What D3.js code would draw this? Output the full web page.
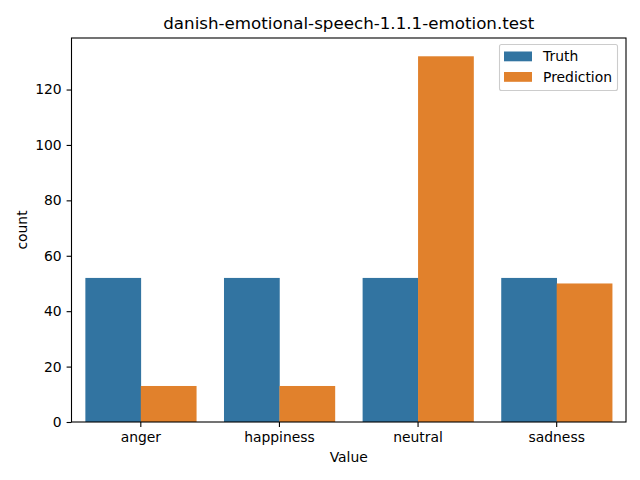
<!DOCTYPE html>
<html><head><meta charset="utf-8">
<script src="https://cdn.jsdelivr.net/npm/d3@7"></script>
<style>body{margin:0;background:#fff}svg{display:block}text{font-family:"DejaVu Sans",sans-serif;fill:#000}</style>
</head><body><svg id="c" width="640" height="480"></svg>
<script>
const categories = ["anger", "happiness", "neutral", "sadness"];
const seriesNames = ["Truth", "Prediction"];
const truthValues = [52, 52, 52, 52];
const predictionValues = [13, 13, 132, 50];
const yTicks = [0, 20, 40, 60, 80, 100, 120];
const colors = ["#3274a1", "#e1812c"];

const svg = d3.select("#c");
const L = 71.5, R = 626, T = 38, B = 422;
const x = d3.scaleBand().domain(categories).range([L, R]).paddingInner(0.2).paddingOuter(0.1);
const xs = d3.scaleBand().domain(seriesNames).range([0, x.bandwidth()]);
const ymax = d3.max(predictionValues.concat(truthValues)) * 1.05;
const y = d3.scaleLinear().domain([0, ymax]).range([B, T]);

const data = [truthValues, predictionValues];
seriesNames.forEach((s, si) => {
  svg.append("g").selectAll("rect").data(categories).join("rect")
    .attr("x", d => x(d) + xs(s))
    .attr("width", xs.bandwidth() + 0.3)
    .attr("y", (d, i) => y(data[si][i]))
    .attr("height", (d, i) => B - y(data[si][i]))
    .attr("fill", colors[si]);
});

const xAxis = svg.append("g").attr("transform", `translate(0,${B})`)
  .call(d3.axisBottom(x).tickSizeOuter(0).tickSize(4.9).tickPadding(4.9));
const yAxis = svg.append("g").attr("transform", `translate(${L},0)`)
  .call(d3.axisLeft(y).tickValues(yTicks).tickSizeOuter(0).tickSize(4.9).tickPadding(4.9));
[xAxis, yAxis].forEach(a => {
  a.selectAll("text").style("font-size", "13.9px").style("font-family", "DejaVu Sans").attr("fill", "#000");
  a.selectAll("line").attr("stroke", "#000").attr("stroke-width", 1.1);
  a.select(".domain").remove();
});
// spines
svg.append("rect").attr("x", L).attr("y", T).attr("width", R - L).attr("height", B - T)
  .attr("fill", "none").attr("stroke", "#000").attr("stroke-width", 1.1);

svg.append("text").attr("x", (L + R) / 2).attr("y", 29).attr("text-anchor", "middle")
  .style("font-size", "16.7px").text("danish-emotional-speech-1.1.1-emotion.test");
svg.append("text").attr("x", (L + R) / 2).attr("y", 462).attr("text-anchor", "middle")
  .style("font-size", "13.9px").text("Value");
svg.append("text").attr("transform", `translate(27,${(T + B) / 2}) rotate(-90)`).attr("text-anchor", "middle")
  .style("font-size", "13.9px").text("count");

// legend
const lg = svg.append("g");
lg.append("rect").attr("x", 499.5).attr("y", 44.5).attr("width", 118).attr("height", 46).attr("rx", 2)
  .attr("fill", "#fff").attr("fill-opacity", 0.8).attr("stroke", "#ccc").attr("stroke-width", 1.1);
seriesNames.forEach((s, i) => {
  lg.append("rect").attr("x", 504).attr("y", 51.5 + i * 20.5).attr("width", 28).attr("height", 9.8).attr("fill", colors[i]);
  lg.append("text").attr("x", 543).attr("y", 61 + i * 20.5).style("font-size", "13.9px").text(s);
});
</script></body></html>
